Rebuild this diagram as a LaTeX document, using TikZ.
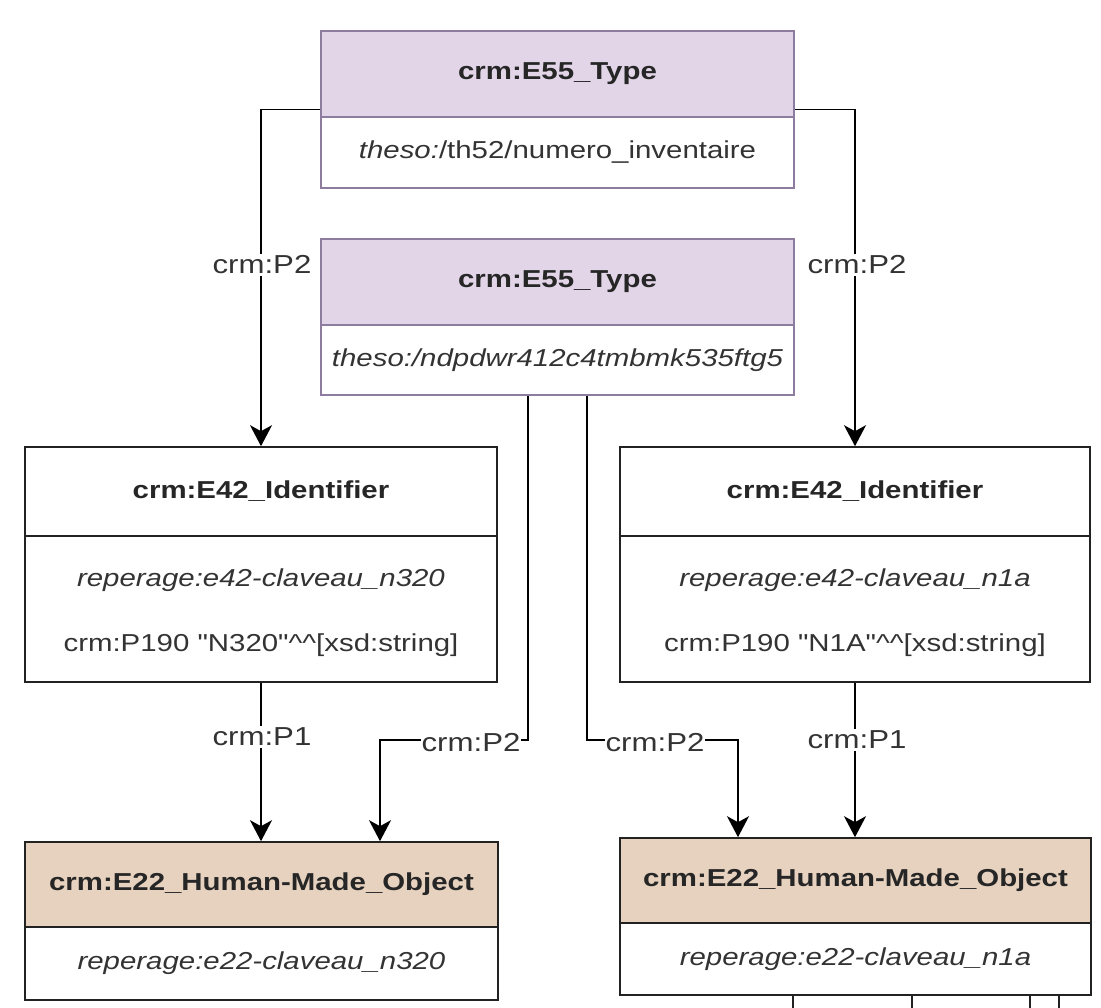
\documentclass[tikz,border=0pt]{standalone}
\usepackage{fontspec}
\setmainfont{Liberation Sans}[FakeStretch=1.2, Ligatures=TeXOff]
\usetikzlibrary{arrows.meta,fit}
\definecolor{purfill}{HTML}{E1D5E7}
\definecolor{purline}{HTML}{8E7CA0}
\definecolor{tanfill}{HTML}{E6D2BF}
\definecolor{boxline}{HTML}{222222}
\definecolor{txtdark}{HTML}{262626}
\definecolor{txtgray}{HTML}{333333}
\tikzset{
  hdr/.style={draw=boxline, line width=1.6pt, inner sep=0pt,
    text=txtdark, font=\fontsize{24.5}{29}\selectfont\bfseries},
  purhdr/.style={hdr, draw=purline, fill=purfill},
  tanhdr/.style={hdr, fill=tanfill},
  whitehdr/.style={hdr, fill=white},
  bodybox/.style={draw=boxline, line width=1.6pt, inner sep=0pt, fill=white,
    text=txtgray, font=\fontsize{24.5}{29}\selectfont\itshape},
  purbody/.style={bodybox, draw=purline},
  bodytxt/.style={inner sep=0pt, text=txtgray, font=\fontsize{24.5}{29}\selectfont},
  conn/.style={draw=black, line width=1.9pt,
    -{Stealth[length=21pt,width=22pt,inset=6pt]}},
  lbl/.style={fill=white, inner sep=2pt, text=txtgray,
    font=\fontsize{26}{30}\selectfont},
  wrap/.style={inner sep=0pt, draw=none}
}
\begin{document}
\begin{tikzpicture}[x=1pt,y=-1pt]
\useasboundingbox[fill=white] (0,0) rectangle (1101,1008);

% top E55
\node[purhdr, minimum width=473pt, minimum height=86pt] (t1h) at (557.5,74) {crm:E55\_Type};
\node[purbody, minimum width=473pt, minimum height=71pt] (t1b) at (557.5,152.5)
  {\textit{theso:}\upshape/th52/numero\_inventaire};
\node[wrap, fit=(t1h)(t1b)] (t1) {};

% second E55
\node[purhdr, minimum width=473pt, minimum height=86pt] (t2h) at (557.5,282) {crm:E55\_Type};
\node[purbody, minimum width=473pt, minimum height=70pt] (t2b) at (557.5,360)
  {theso:/ndpdwr412c4tmbmk535ftg5};

% left E42
\node[whitehdr, minimum width=472pt, minimum height=89pt] (e42lh) at (261,491.5) {crm:E42\_Identifier};
\node[bodybox, minimum width=472pt, minimum height=146pt] (e42lb) at (261,609) {};
\node[bodytxt, font=\fontsize{24.5}{29}\selectfont\itshape] (e42l1) at (261,580) {reperage:e42-claveau\_n320};
\node[bodytxt] (e42l2) at (261,645) {crm:P190 "N320"\^{}\^{}[xsd:string]};

% right E42
\node[whitehdr, minimum width=470pt, minimum height=89pt] (e42rh) at (855,491.5) {crm:E42\_Identifier};
\node[bodybox, minimum width=470pt, minimum height=146pt] (e42rb) at (855,609) {};
\node[bodytxt, font=\fontsize{24.5}{29}\selectfont\itshape] (e42r1) at (855,580) {reperage:e42-claveau\_n1a};
\node[bodytxt] (e42r2) at (855,645) {crm:P190 "N1A"\^{}\^{}[xsd:string]};

% left E22
\node[tanhdr, minimum width=473pt, minimum height=85pt] (e22lh) at (261.5,884.5) {crm:E22\_Human-Made\_Object};
\node[bodybox, minimum width=473pt, minimum height=73pt] (e22lb) at (261.5,963.5) {reperage:e22-claveau\_n320};

% right E22
\node[tanhdr, minimum width=471pt, minimum height=85pt] (e22rh) at (855.5,880.5) {crm:E22\_Human-Made\_Object};
\node[bodybox, minimum width=471pt, minimum height=72pt] (e22rb) at (855.5,959) {reperage:e22-claveau\_n1a};

% connectors
\draw[conn] (t1.west) -| (e42lh.north);
\draw[conn] (t1.east) -| (e42rh.north);
\draw[conn] (e42lb.south) -- (e42lb.south |- e22lh.north);
\draw[conn] (e42rb.south) -- (e42rb.south |- e22rh.north);

\coordinate (ja) at (528,740);
\coordinate (jb) at (380,740);
\coordinate (jc) at (587,740);
\coordinate (jd) at (738,740);
\draw[conn] (t2b.south -| ja) -- (ja) -- (jb) -- (jb |- e22lh.north);
\draw[conn] (t2b.south -| jc) -- (jc) -- (jd) -- (jd |- e22rh.north);

% labels
\node[lbl] (lp2l) at (262,265) {crm:P2};
\node[lbl] (lp2r) at (857,265) {crm:P2};
\node[lbl] (lp1l) at (262,737) {crm:P1};
\node[lbl] (lp1r) at (857,740) {crm:P1};
\node[lbl, inner xsep=1pt] (lp2bl) at (471,743) {crm:P2};
\node[lbl, inner xsep=1pt] (lp2br) at (655,743) {crm:P2};

% fragments below the right box (cut off by the frame)
\draw[boxline, line width=1.5pt] (793,996) -- (793,1008);
\draw[boxline, line width=1.5pt] (912,996) -- (912,1008);
\draw[boxline, line width=1.5pt] (1030,996) -- (1030,1008);
\draw[boxline, line width=1.5pt] (1059,996) -- (1059,1008);
\end{tikzpicture}
\end{document}
